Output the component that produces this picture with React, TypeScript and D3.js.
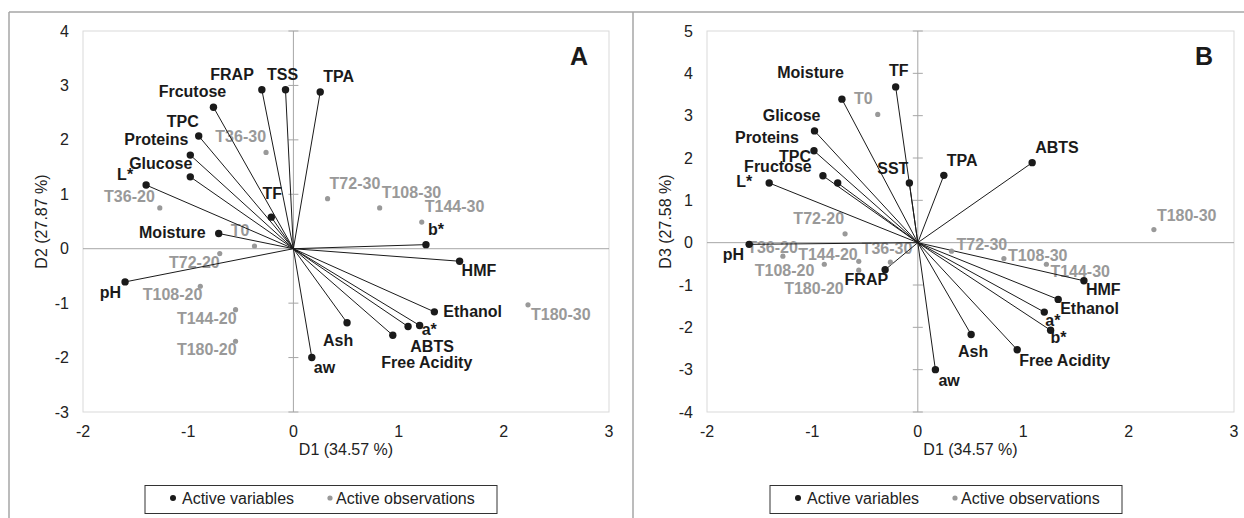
import React, { useEffect, useRef } from 'react';
import * as d3 from 'd3';

// ---- data ----
const xTicks = [-2, -1, 0, 1, 2, 3];
const yTicksA = [-3, -2, -1, 0, 1, 2, 3, 4];
const yTicksB = [-4, -3, -2, -1, 0, 1, 2, 3, 4, 5];

const varsA = ["FRAP", "TSS", "TPA", "Frcutose", "TPC", "Proteins", "Glucose", "L*", "TF", "Moisture",
  "pH", "b*", "HMF", "Ethanol", "a*", "ABTS", "Free Acidity", "Ash", "aw"];
const varA_D1 = [-0.30, -0.075, 0.255, -0.76, -0.90, -0.98, -0.98, -1.40, -0.21, -0.71,
  -1.60, 1.26, 1.58, 1.34, 1.20, 1.09, 0.945, 0.51, 0.175];
const varA_D2 = [2.92, 2.92, 2.88, 2.60, 2.07, 1.72, 1.32, 1.17, 0.58, 0.28,
  -0.61, 0.075, -0.23, -1.16, -1.41, -1.43, -1.59, -1.36, -2.0];

const varsB = ["Moisture", "TF", "Glicose", "Proteins", "TPC", "Fructose", "L*", "SST", "TPA", "ABTS",
  "pH", "FRAP", "HMF", "Ethanol", "a*", "b*", "Ash", "Free Acidity", "aw"];
const varB_D1 = [-0.72, -0.21, -0.98, -0.985, -0.90, -0.76, -1.41, -0.08, 0.247, 1.085,
  -1.60, -0.31, 1.576, 1.332, 1.20, 1.26, 0.506, 0.943, 0.167];
const varB_D3 = [3.39, 3.68, 2.64, 2.17, 1.58, 1.41, 1.41, 1.41, 1.59, 1.89,
  -0.04, -0.64, -0.90, -1.34, -1.64, -2.07, -2.17, -2.53, -3.0];

const obsNames = ["T0", "T36-20", "T72-20", "T108-20", "T144-20", "T180-20",
  "T36-30", "T72-30", "T108-30", "T144-30", "T180-30"];
const obsA_D1 = [-0.37, -1.27, -0.70, -0.885, -0.55, -0.55, -0.26, 0.325, 0.82, 1.22, 2.23];
const obsA_D2 = [0.05, 0.75, -0.09, -0.69, -1.12, -1.70, 1.77, 0.92, 0.75, 0.49, -1.03];
const obsB_D1 = [-0.38, -1.28, -0.69, -0.887, -0.56, -0.56, -0.26, 0.32, 0.817, 1.22, 2.24];
const obsB_D3 = [3.03, -0.32, 0.21, -0.51, -0.44, -0.65, -0.46, -0.20, -0.376, -0.51, 0.31];

// label placement relative to the point: [anchor, dx, dy]
type Lab = [string, number, number];
const labelsVarA: Record<string, Lab> = {
  "FRAP": ["end", -8, -10], "TSS": ["middle", -3, -10], "TPA": ["start", 3, -10],
  "Frcutose": ["middle", -21, -10], "TPC": ["end", 0, -9], "Proteins": ["end", -2, -10],
  "Glucose": ["end", 2, -8], "L*": ["end", -13, -5], "TF": ["middle", 1, -18],
  "Moisture": ["end", -13, 5], "pH": ["end", -4, 16], "b*": ["start", 2, -10],
  "HMF": ["start", 2, 15], "Ethanol": ["start", 9, 5], "a*": ["start", 2, 10],
  "ABTS": ["middle", 24, 25], "Free Acidity": ["middle", 34, 33], "Ash": ["middle", -9, 23],
  "aw": ["start", 2, 15],
};
const labelsObsA: Record<string, Lab> = {
  "T0": ["end", -5, -10], "T36-20": ["end", -5, -6], "T72-20": ["end", 0, 14],
  "T108-20": ["end", 2, 14], "T144-20": ["end", 1, 14], "T180-20": ["end", 1, 14],
  "T36-30": ["end", 0, -10], "T72-30": ["start", 2, -10], "T108-30": ["start", 2, -10],
  "T144-30": ["start", 3, -10], "T180-30": ["start", 3, 15],
};
const labelsVarB: Record<string, Lab> = {
  "Moisture": ["end", 2, -21], "TF": ["middle", 3, -11], "Glicose": ["end", 6, -10],
  "Proteins": ["end", -15, -8], "TPC": ["end", -12, -14], "Fructose": ["end", -26, -11],
  "L*": ["end", -17, 4], "SST": ["end", -1, -9], "TPA": ["start", 3, -9],
  "ABTS": ["start", 3, -10], "pH": ["end", -5, 16], "FRAP": ["end", 3, 15],
  "HMF": ["start", 2, 14], "Ethanol": ["start", 2, 15], "a*": ["start", 1, 14],
  "b*": ["start", 0, 13], "Ash": ["middle", 2, 22], "Free Acidity": ["start", 2, 16],
  "aw": ["start", 3, 16],
};
const labelsObsB: Record<string, Lab> = {
  "T0": ["end", -5, -10], "T36-20": ["end", 15, -3], "T72-20": ["end", -1, -10],
  "T108-20": ["end", -10, 12], "T144-20": ["end", -1, -1], "T180-20": ["end", -15, 24],
  "T36-30": ["end", 22, -8], "T72-30": ["start", 5, -1], "T108-30": ["start", 4, 2],
  "T144-30": ["start", 4, 13], "T180-30": ["start", 3, -9],
};

const FONT = "'Liberation Sans', Arial, sans-serif";

interface PanelSpec {
  letter: string;
  left: number; right: number; top: number; bottom: number;
  yDomain: [number, number];
  yTicks: number[];
  yTitle: string;
  vars: string[]; vx: number[]; vy: number[];
  ox: number[]; oy: number[];
  varLab: Record<string, Lab>; obsLab: Record<string, Lab>;
  legendX: number;
}

const panels: PanelSpec[] = [
  {
    letter: "A", left: 83, right: 609, top: 31, bottom: 412,
    yDomain: [-3, 4], yTicks: yTicksA, yTitle: "D2 (27.87 %)",
    vars: varsA, vx: varA_D1, vy: varA_D2, ox: obsA_D1, oy: obsA_D2,
    varLab: labelsVarA, obsLab: labelsObsA, legendX: 145,
  },
  {
    letter: "B", left: 707, right: 1234, top: 31, bottom: 412,
    yDomain: [-4, 5], yTicks: yTicksB, yTitle: "D3 (27.58 %)",
    vars: varsB, vx: varB_D1, vy: varB_D3, ox: obsB_D1, oy: obsB_D3,
    varLab: labelsVarB, obsLab: labelsObsB, legendX: 770,
  },
];

export default function App() {
  const svgRef = useRef<SVGSVGElement>(null);

  useEffect(() => {
    if (!svgRef.current) return;
    const svg = d3.select(svgRef.current);
    svg.selectAll("*").remove();

    // outer frames
    svg.append("line").attr("x1", 9).attr("x2", 1244).attr("y1", 12).attr("y2", 12)
      .attr("stroke", "#a6a6a6").attr("stroke-width", 1.5);
    [9, 633].forEach(x => {
      svg.append("line").attr("x1", x).attr("x2", x).attr("y1", 12).attr("y2", 518)
        .attr("stroke", "#a6a6a6").attr("stroke-width", 1.5);
    });

    panels.forEach(p => {
      const x = d3.scaleLinear().domain([-2, 3]).range([p.left, p.right]);
      const y = d3.scaleLinear().domain(p.yDomain).range([p.bottom, p.top]);
      const g = svg.append("g").attr("font-family", FONT);

      // plot area border
      g.append("rect").attr("x", p.left).attr("y", p.top)
        .attr("width", p.right - p.left).attr("height", p.bottom - p.top)
        .attr("fill", "none").attr("stroke", "#d9d9d9").attr("stroke-width", 1);

      // zero axes
      g.append("line").attr("x1", p.left).attr("x2", p.right).attr("y1", y(0)).attr("y2", y(0))
        .attr("stroke", "#a6a6a6").attr("stroke-width", 1);
      g.append("line").attr("x1", x(0)).attr("x2", x(0)).attr("y1", p.top).attr("y2", p.bottom)
        .attr("stroke", "#a6a6a6").attr("stroke-width", 1);
      g.selectAll(".ytick").data(p.yTicks).enter().append("line")
        .attr("x1", x(0) - 5).attr("x2", x(0) + 5)
        .attr("y1", d => y(d)).attr("y2", d => y(d))
        .attr("stroke", "#a6a6a6");

      // tick labels
      g.selectAll(".ylab").data(p.yTicks).enter().append("text")
        .attr("x", p.left - 14).attr("y", d => y(d) + 5.5)
        .attr("text-anchor", "end").attr("font-size", 16).attr("fill", "#222")
        .text(d => String(d));
      g.selectAll(".xlab").data(xTicks).enter().append("text")
        .attr("x", d => x(d)).attr("y", 437)
        .attr("text-anchor", "middle").attr("font-size", 16).attr("fill", "#222")
        .text(d => String(d));

      // axis titles
      g.append("text").attr("x", (p.left + p.right) / 2).attr("y", 455)
        .attr("text-anchor", "middle").attr("font-size", 16).attr("fill", "#222")
        .text("D1 (34.57 %)");
      g.append("text")
        .attr("transform", `translate(${p.left - 36},${(p.top + p.bottom) / 2}) rotate(-90)`)
        .attr("text-anchor", "middle").attr("font-size", 16).attr("fill", "#222")
        .text(p.yTitle);

      // panel letter
      g.append("text").attr("x", p.right - 21).attr("y", 65)
        .attr("text-anchor", "end").attr("font-size", 25).attr("font-weight", "bold")
        .attr("fill", "#1a1a1a").text(p.letter);

      // observation labels (under the vectors)
      obsNames.forEach((name, i) => {
        const [anchor, dx, dy] = p.obsLab[name];
        g.append("text").attr("x", x(p.ox[i]) + dx).attr("y", y(p.oy[i]) + dy)
          .attr("text-anchor", anchor).attr("font-size", 16).attr("font-weight", "bold")
          .attr("fill", "#999999").text(name);
      });

      // vectors
      p.vars.forEach((_, i) => {
        g.append("line").attr("x1", x(0)).attr("y1", y(0))
          .attr("x2", x(p.vx[i])).attr("y2", y(p.vy[i]))
          .attr("stroke", "#1a1a1a").attr("stroke-width", 1);
      });

      // observation points
      obsNames.forEach((_, i) => {
        g.append("circle").attr("cx", x(p.ox[i])).attr("cy", y(p.oy[i])).attr("r", 2.6)
          .attr("fill", "#999999");
      });

      // variable points + labels
      p.vars.forEach((name, i) => {
        g.append("circle").attr("cx", x(p.vx[i])).attr("cy", y(p.vy[i])).attr("r", 3.7)
          .attr("fill", "#1a1a1a");
        const [anchor, dx, dy] = p.varLab[name];
        g.append("text").attr("x", x(p.vx[i]) + dx).attr("y", y(p.vy[i]) + dy)
          .attr("text-anchor", anchor).attr("font-size", 16).attr("font-weight", "bold")
          .attr("fill", "#1a1a1a").text(name);
      });

      // legend
      const lx = p.legendX;
      g.append("rect").attr("x", lx).attr("y", 485.5).attr("width", 352).attr("height", 28)
        .attr("fill", "none").attr("stroke", "#333").attr("stroke-width", 1);
      g.append("circle").attr("cx", lx + 28).attr("cy", 498).attr("r", 3).attr("fill", "#1a1a1a");
      g.append("text").attr("x", lx + 37).attr("y", 504).attr("font-size", 16).attr("fill", "#222")
        .text("Active variables");
      g.append("circle").attr("cx", lx + 185).attr("cy", 498).attr("r", 2.6).attr("fill", "#999999");
      g.append("text").attr("x", lx + 191).attr("y", 504).attr("font-size", 16).attr("fill", "#222")
        .text("Active observations");
    });
  }, []);

  return (
    <svg ref={svgRef} width={1244} height={518}
      style={{ position: 'absolute', left: 0, top: 0, background: '#fff' }} />
  );
}
